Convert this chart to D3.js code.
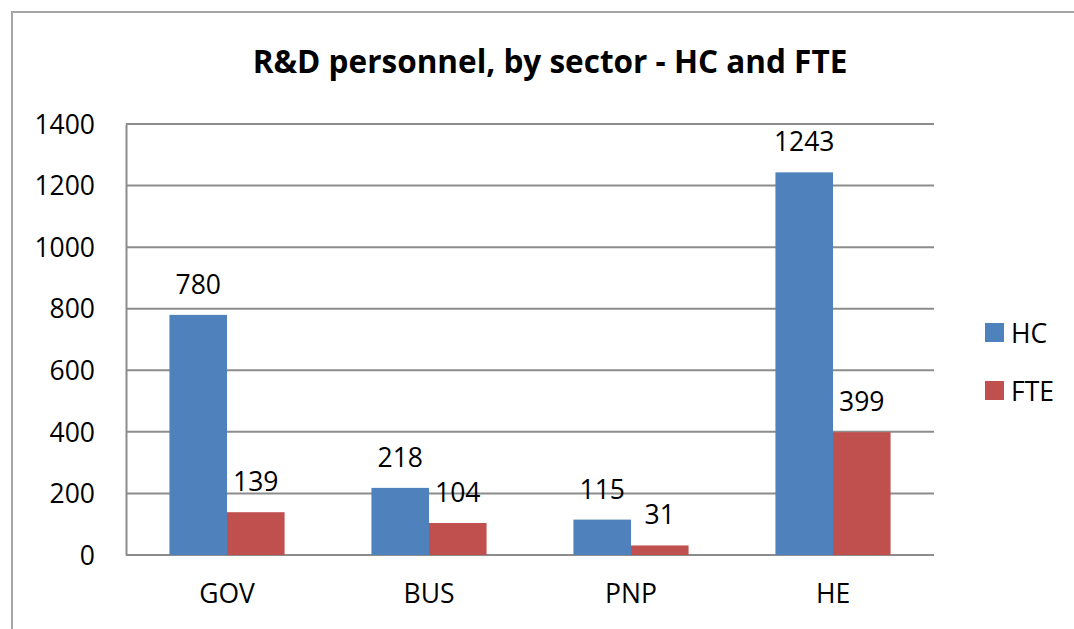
<!DOCTYPE html>
<html>
<head>
<meta charset="utf-8">
<script src="https://cdn.jsdelivr.net/npm/d3@7"></script>
<style>
  body { margin: 0; background: #fff; }
  svg text { font-family: "Open Sans", sans-serif; fill: #000; }
</style>
</head>
<body>
<svg id="chart" width="1074" height="629"></svg>
<script>
const sectors = ["GOV", "BUS", "PNP", "HE"];
const seriesNames = ["HC", "FTE"];
const hcValues = [780, 218, 115, 1243];
const fteValues = [139, 104, 31, 399];
const yTicks = [0, 200, 400, 600, 800, 1000, 1200, 1400];
const colors = ["#4F81BD", "#C0504D"];

const rows = sectors.map((s, i) => ({sector: s, values: [hcValues[i], fteValues[i]]}));

const svg = d3.select("#chart");
const margin = {left: 126, top: 124, right: 140, bottom: 74};
const width = 1074, height = 629;

// outer chart border
svg.append("rect")
    .attr("x", 12).attr("y", 12)
    .attr("width", 1080).attr("height", 640)
    .attr("fill", "none")
    .attr("stroke", "#a6a6a6")
    .attr("stroke-width", 2);

svg.append("text")
    .attr("x", 550).attr("y", 73)
    .attr("text-anchor", "middle")
    .attr("font-size", 31.5)
    .attr("font-weight", "bold")
    .text("R&D personnel, by sector - HC and FTE");

const x = d3.scaleBand()
    .domain(sectors)
    .range([margin.left, width - margin.right])
    .paddingInner(0).paddingOuter(0);

const x1 = d3.scaleBand()
    .domain(seriesNames)
    .range([0, x.bandwidth() * 0.57])

const y = d3.scaleLinear()
    .domain([0, 1400])
    .range([height - margin.bottom, margin.top]);

// gridlines
svg.append("g")
    .selectAll("line")
    .data(yTicks)
    .join("line")
    .attr("x1", margin.left).attr("x2", width - margin.right)
    .attr("y1", d => y(d)).attr("y2", d => y(d))
    .attr("stroke", "#8c8c8c")
    .attr("stroke-width", 2);

// y axis
const yAxis = svg.append("g")
    .attr("transform", `translate(${margin.left},0)`)
    .call(d3.axisLeft(y).tickValues(yTicks).tickFormat(d3.format("d")).tickSize(0).tickPadding(31));
yAxis.select(".domain").attr("stroke", "#8c8c8c").attr("stroke-width", 2);
yAxis.selectAll("text").attr("font-size", 26.5).attr("dy", "0.35em");

// x axis labels
const xAxis = svg.append("g")
    .attr("transform", `translate(0,${height - margin.bottom})`)
    .call(d3.axisBottom(x).tickSize(0).tickPadding(29));
xAxis.select(".domain").remove();
xAxis.selectAll("text").attr("font-size", 26.5).attr("dy", "0.71em");

const groups = svg.append("g")
    .selectAll("g")
    .data(rows)
    .join("g")
    .attr("transform", d => `translate(${x(d.sector) + (x.bandwidth() - x1.range()[1]) / 2},0)`);

groups.selectAll("rect")
    .data(d => d.values.map((v, i) => ({key: seriesNames[i], value: v, i})))
    .join("rect")
    .attr("x", d => x1(d.key))
    .attr("width", x1.bandwidth())
    .attr("y", d => y(d.value))
    .attr("height", d => y(0) - y(d.value))
    .attr("fill", d => colors[d.i]);

groups.selectAll("text")
    .data(d => d.values.map((v, i) => ({key: seriesNames[i], value: v, i})))
    .join("text")
    .attr("x", d => x1(d.key) + x1.bandwidth() / 2)
    .attr("y", d => y(d.value) - 21)
    .attr("text-anchor", "middle")
    .attr("font-size", 26.5)
    .text(d => d.value);

// legend
const legend = svg.append("g")
    .selectAll("g")
    .data(seriesNames)
    .join("g")
    .attr("transform", (d, i) => `translate(985,${323 + i * 58})`);
legend.append("rect")
    .attr("width", 19).attr("height", 19)
    .attr("fill", (d, i) => colors[i]);
legend.append("text")
    .attr("x", 26).attr("y", 20)
    .attr("font-size", 26.5)
    .text(d => d);
</script>
</body>
</html>
